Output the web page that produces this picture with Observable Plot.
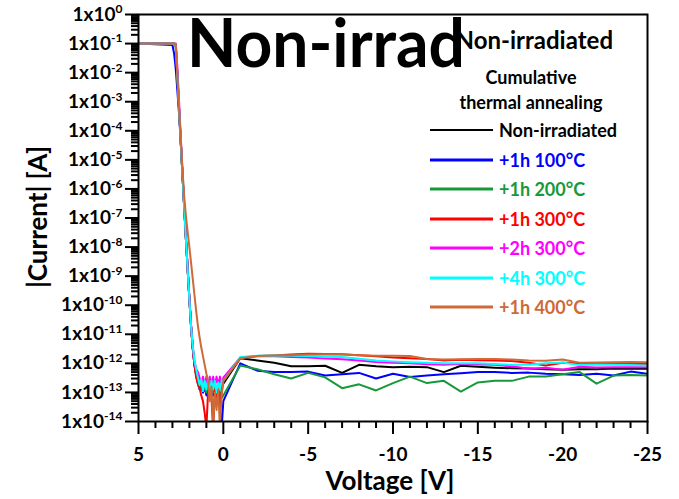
<!DOCTYPE html>
<html><head><meta charset="utf-8">
<script src="https://cdn.jsdelivr.net/npm/d3@7"></script>
<script src="https://cdn.jsdelivr.net/npm/@observablehq/plot@0.6"></script>
<style>
html,body{margin:0;padding:0;background:#fff;}
#chart svg{display:block;font-family:Lato, sans-serif;font-weight:bold;}
</style></head><body><div id="chart"></div>
<script>
// Voltage sweep points [V]
const voltage = [5, 3.0, 2.9, 2.8, 2.7, 2.6, 2.5, 2.4, 2.3, 2.2, 2.1, 2.0, 1.9, 1.8, 1.7, 1.6,
  1.5, 1.4, 1.3, 1.2, 1.1, 1.0, 0.9, 0.8, 0.7, 0.6, 0.5, 0.4, 0.3, 0.2, 0.1, 0,
  -1, -2, -3, -4, -5, -6, -7, -8, -9, -10, -11, -12, -13, -14, -15, -16, -17, -18, -19, -20, -21, -22, -23, -24, -25];

// |Current| [A] per series
const nonIrradiated = [0.1, 0.1, 0.1, 0.079, 6.3e-3, 4.5e-4, 3.2e-5, 2.5e-6, 2.0e-7, 1.7e-8, 1.6e-9, 1.6e-10, 1.8e-11, 3.2e-12, 8.9e-13, 4.0e-13,
  2.5e-13, 1.6e-13, 2.0e-13, 1.0e-13, 1.6e-13, 1.26e-13, 2.0e-13, 7.9e-14, 1.6e-13, 1.26e-13, 2.0e-13, 1.0e-13, 1.6e-13, 1.26e-13, 1.6e-13, 2.0e-13,
  1.51e-12, 1.26e-12, 1.05e-12, 7.9e-13, 7.9e-13, 8.3e-13, 4.7e-13, 8.9e-13, 7.9e-13, 7.4e-13, 7.6e-13, 7.4e-13, 5.0e-13, 8.3e-13, 7.6e-13, 7.1e-13, 6.8e-13, 6.6e-13, 6.3e-13, 6.0e-13, 6.3e-13, 6.3e-13, 6.6e-13, 6.5e-13, 6.5e-13];
const h1_100C = [0.1, 0.089, 0.045, 0.0126, 2.0e-3, 3.2e-4, 3.2e-5, 2.5e-6, 2.0e-7, 1.7e-8, 1.6e-9, 1.6e-10, 1.8e-11, 3.2e-12, 8.9e-13, 4.0e-13,
  2.0e-13, 1.26e-13, 1.8e-13, 1.0e-13, 1.6e-13, 7.9e-14, 1.4e-13, 1.0e-13, 1.6e-13, 7.9e-14, 1.26e-13, 6.3e-14, 1.0e-13, 3.2e-14, 6e-15, 5.0e-14,
  1.0e-12, 5.6e-13, 5.0e-13, 5.0e-13, 5.2e-13, 3.8e-13, 4.2e-13, 4.7e-13, 3.0e-13, 4.4e-13, 3.4e-13, 3.8e-13, 4.2e-13, 4.6e-13, 5.0e-13, 5.0e-13, 4.7e-13, 4.8e-13, 4.4e-13, 4.2e-13, 4.0e-13, 4.4e-13, 3.8e-13, 5.2e-13, 4.4e-13];
const h1_200C = [0.1, 0.1, 0.1, 0.079, 6.3e-3, 4.5e-4, 3.2e-5, 2.5e-6, 2.0e-7, 1.7e-8, 1.6e-9, 1.6e-10, 1.8e-11, 3.2e-12, 8.9e-13, 4.0e-13,
  2.2e-13, 1.4e-13, 2.0e-13, 1.12e-13, 1.8e-13, 1.0e-13, 1.6e-13, 7.9e-14, 1.4e-13, 1.0e-13, 1.6e-13, 7.9e-14, 1.4e-13, 1.0e-13, 6.3e-14, 7.9e-14,
  8.5e-13, 6.3e-13, 4.2e-13, 3.0e-13, 4.7e-13, 3.3e-13, 1.4e-13, 1.9e-13, 1.17e-13, 2.1e-13, 3.5e-13, 2.1e-13, 2.5e-13, 1.07e-13, 2.2e-13, 2.5e-13, 2.5e-13, 3.5e-13, 3.5e-13, 4.2e-13, 5.0e-13, 2.0e-13, 3.8e-13, 4.0e-13, 3.8e-13];
const h1_300C = [0.1, 0.1, 0.1, 0.079, 6.3e-3, 4.5e-4, 3.2e-5, 2.5e-6, 2.0e-7, 1.7e-8, 1.6e-9, 1.6e-10, 1.8e-11, 3.2e-12, 8.9e-13, 3.2e-13,
  2.0e-13, 1.4e-13, 7.9e-14, 5.0e-14, 2.0e-14, 6e-15, 1.0e-13, 2.0e-13, 6.3e-14, 6e-15, 1.26e-13, 4.0e-14, 1.6e-13, 2.5e-14, 1.0e-13, 2.5e-13,
  1.58e-12, 1.78e-12, 1.86e-12, 2.0e-12, 2.14e-12, 2.09e-12, 2.04e-12, 1.91e-12, 1.74e-12, 1.58e-12, 1.51e-12, 1.41e-12, 1.26e-12, 1.32e-12, 1.29e-12, 1.26e-12, 1.2e-12, 1.05e-12, 8.5e-13, 1.05e-12, 1.0e-12, 9.5e-13, 9.5e-13, 9.5e-13, 9.5e-13];
const h2_300C = [0.1, 0.1, 0.1, 0.1, 0.0126, 7.9e-4, 5.0e-5, 3.2e-6, 2.5e-7, 2.0e-8, 1.8e-9, 1.8e-10, 2.0e-11, 3.5e-12, 1.12e-12, 6.3e-13,
  5.0e-13, 3.2e-13, 2.0e-13, 3.5e-13, 1.8e-13, 3.5e-13, 1.6e-13, 3.5e-13, 1.8e-13, 3.5e-13, 1.6e-13, 3.5e-13, 1.8e-13, 3.5e-13, 1.6e-13, 3.2e-13,
  1.58e-12, 1.74e-12, 1.74e-12, 1.66e-12, 1.58e-12, 1.48e-12, 1.38e-12, 1.26e-12, 1.12e-12, 1.05e-12, 1.0e-12, 9.3e-13, 8.9e-13, 9.5e-13, 9.1e-13, 8.9e-13, 7.9e-13, 6.5e-13, 7.1e-13, 6.0e-13, 7.6e-13, 7.2e-13, 7.4e-13, 7.4e-13, 7.4e-13];
const h4_300C = [0.1, 0.1, 0.1, 0.079, 6.3e-3, 4.5e-4, 3.2e-5, 2.5e-6, 2.0e-7, 1.7e-8, 1.6e-9, 1.6e-10, 1.8e-11, 4.0e-12, 1.26e-12, 6.3e-13,
  3.2e-13, 1.8e-13, 2.8e-13, 1.12e-13, 2.5e-13, 1.26e-13, 2.8e-13, 1.0e-13, 2.5e-13, 1.26e-13, 2.5e-13, 1.0e-13, 2.2e-13, 1.26e-13, 2.5e-13, 2.5e-13,
  1.66e-12, 1.82e-12, 1.86e-12, 1.82e-12, 1.78e-12, 1.70e-12, 1.66e-12, 1.45e-12, 1.26e-12, 1.17e-12, 1.10e-12, 1.05e-12, 1.0e-12, 1.0e-12, 1.0e-12, 9.5e-13, 8.9e-13, 8.9e-13, 1.0e-12, 1.07e-12, 8.7e-13, 9.1e-13, 8.9e-13, 8.7e-13, 8.5e-13];
const h1_400C = [0.1, 0.1, 0.1, 0.089, 6.3e-3, 5.0e-4, 4.0e-5, 4.0e-6, 5.0e-7, 1.1e-7, 3.2e-8, 1.0e-8, 2.8e-9, 7.9e-10, 2.2e-10, 6.3e-11,
  2.0e-11, 7.9e-12, 3.5e-12, 1.78e-12, 8.9e-13, 4.5e-13, 2.5e-13, 5.0e-14, 1.6e-13, 6e-15, 1.0e-13, 2.5e-14, 1.26e-13, 6e-15, 7.9e-14, 2.5e-13,
  1.51e-12, 1.78e-12, 1.86e-12, 1.91e-12, 2.0e-12, 2.04e-12, 2.0e-12, 1.91e-12, 1.82e-12, 1.82e-12, 1.78e-12, 1.41e-12, 1.35e-12, 1.38e-12, 1.41e-12, 1.41e-12, 1.35e-12, 1.26e-12, 1.23e-12, 1.35e-12, 1.05e-12, 1.07e-12, 1.10e-12, 1.12e-12, 1.10e-12];

const seriesNames = ["Non-irradiated", "+1h 100°C", "+1h 200°C", "+1h 300°C", "+2h 300°C", "+4h 300°C", "+1h 400°C"];
const seriesColors = ["#000000", "#0000ff", "#17993a", "#ff0000", "#ff00ff", "#00ffff", "#cd6a36"];
const seriesValues = [nonIrradiated, h1_100C, h1_200C, h1_300C, h2_300C, h4_300C, h1_400C];

const xTicks = [5, 0, -5, -10, -15, -20, -25];
const xMinorTicks = [4, 3, 2, 1, -1, -2, -3, -4, -6, -7, -8, -9, -11, -12, -13, -14, -16, -17, -18, -19, -21, -22, -23, -24];
const yTicks = [1, 1e-1, 1e-2, 1e-3, 1e-4, 1e-5, 1e-6, 1e-7, 1e-8, 1e-9, 1e-10, 1e-11, 1e-12, 1e-13, 1e-14];
const yExponents = ["0", "-1", "-2", "-3", "-4", "-5", "-6", "-7", "-8", "-9", "-10", "-11", "-12", "-13", "-14"];
const yMinorTicks = [];
for (const t of yTicks.slice(1)) for (const m of [2, 3, 4, 5, 6, 7, 8, 9]) yMinorTicks.push(m * t);

const lineMarks = seriesValues.map((vals, i) => {
  const rows = voltage.map((v, j) => ({V: v, I: vals[j]}));
  return Plot.line(rows, {x: "V", y: "I", stroke: seriesColors[i], strokeWidth: 2, clip: true});
});

const chart = Plot.plot({
  width: 679, height: 499,
  marginLeft: 138, marginRight: 32, marginTop: 14, marginBottom: 78,
  style: {fontFamily: "Lato, sans-serif", fontWeight: "bold", background: "#fff", color: "#000"},
  x: {domain: [5, -25]},
  y: {type: "log", domain: [1e-14, 1]},
  marks: [
    Plot.axisY({ticks: yMinorTicks, tickSize: 7, tickFormat: () => "", strokeWidth: 2, label: null}),
    Plot.axisY({ticks: yTicks, tickSize: 13, tickPadding: 3, fontSize: 19, strokeWidth: 2, label: null,
      tickFormat: d => "1x10^" + yExponents[yTicks.indexOf(d)]}),
    Plot.axisX({ticks: xMinorTicks, tickSize: 7, tickFormat: () => "", strokeWidth: 2, label: null}),
    Plot.axisX({ticks: xTicks, tickSize: 13, tickPadding: 13, fontSize: 19, strokeWidth: 2, label: null,
      tickFormat: d => String(d)}),
    ...lineMarks,
    Plot.frame({strokeWidth: 2})
  ]
});
document.getElementById("chart").appendChild(chart);

const svg = d3.select(chart);
// superscript exponents on y tick labels
svg.selectAll("text").each(function() {
  const t = d3.select(this);
  const s = this.textContent;
  if (s.startsWith("1x10^")) {
    const exp = s.slice(5);
    t.text("1x10");
    t.append("tspan").attr("font-size", 12).attr("dy", "-0.6em").text(exp);
  }
});

const FONT = "Lato, sans-serif";
// axis titles
svg.append("text").attr("x", 390).attr("y", 490).attr("text-anchor", "middle")
  .attr("font-size", 26).attr("font-weight", "bold").attr("font-family", FONT).text("Voltage [V]");
svg.append("text").attr("transform", "translate(47,217) rotate(-90)").attr("text-anchor", "middle")
  .attr("font-size", 26).attr("font-weight", "bold").attr("font-family", FONT).text("|Current| [A]");

// legend
const lg = svg.append("g").attr("font-family", FONT).attr("font-weight", "bold");
lg.append("text").attr("x", 613).attr("y", 49).attr("text-anchor", "end").attr("font-size", 24).text("Non-irradiated");
lg.append("text").attr("x", 531).attr("y", 84).attr("text-anchor", "middle").attr("font-size", 18).text("Cumulative");
lg.append("text").attr("x", 531).attr("y", 109).attr("text-anchor", "middle").attr("font-size", 18).text("thermal annealing");
const rowY = [130, 160, 189, 219, 248, 278, 307];
seriesNames.forEach((name, i) => {
  lg.append("line").attr("x1", 430).attr("x2", 493).attr("y1", rowY[i]).attr("y2", rowY[i])
    .attr("stroke", seriesColors[i]).attr("stroke-width", i === 0 ? 2 : 3);
  lg.append("text").attr("x", 499).attr("y", rowY[i] + 6.5).attr("font-size", 18).attr("text-anchor", "start")
    .attr("fill", seriesColors[i]).text(name);
});

// big overlay title (drawn over the small title, as in the original)
svg.append("text").attr("x", 187).attr("y", 67).attr("font-size", 67).attr("font-weight", "bold")
  .attr("text-anchor", "start").attr("textLength", 278).attr("lengthAdjust", "spacingAndGlyphs")
  .attr("font-family", FONT).attr("fill", "#000").text("Non-irrad");
</script></body></html>
